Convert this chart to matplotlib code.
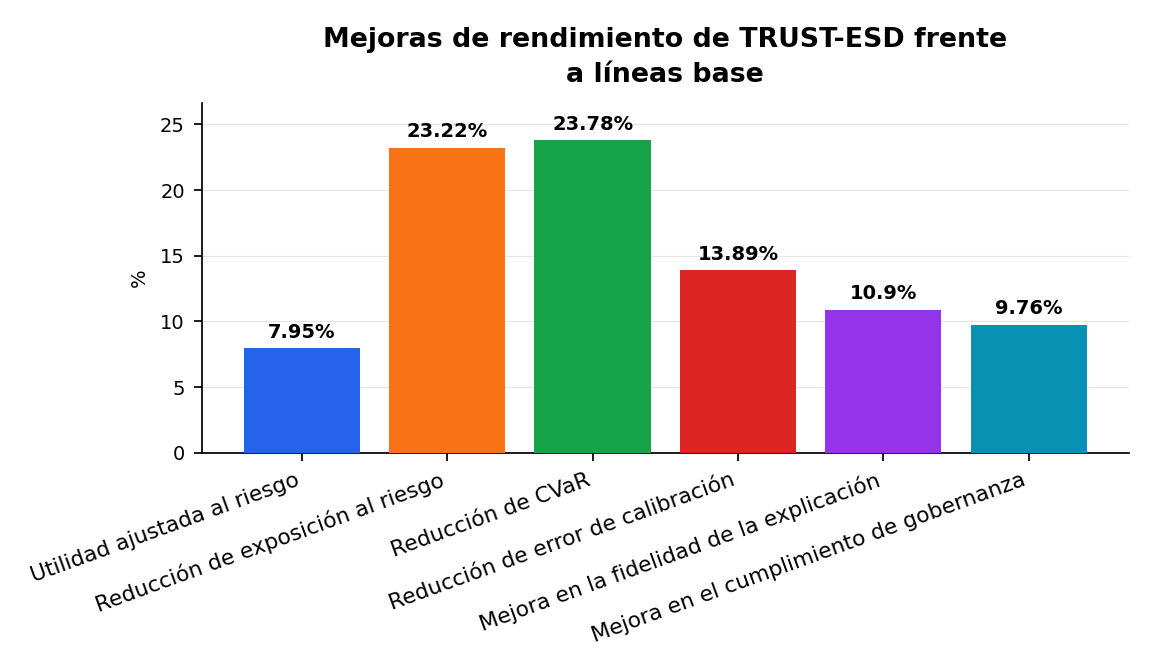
import matplotlib
matplotlib.use('Agg')
import matplotlib.pyplot as plt

categories = ["Utilidad ajustada al riesgo", "Reducción de exposición al riesgo",
              "Reducción de CVaR", "Reducción de error de calibración",
              "Mejora en la fidelidad de la explicación",
              "Mejora en el cumplimiento de gobernanza"]
values = [7.95, 23.22, 23.78, 13.89, 10.9, 9.76]
colors = ["#2563eb", "#f97316", "#16a34a", "#dc2626", "#9333ea", "#0891b2"]

fig, ax = plt.subplots(figsize=(11.52, 6.72), dpi=100)
bars = ax.bar(categories, values, color=colors, width=0.8, zorder=3)
for b, v in zip(bars, values):
    ax.text(b.get_x() + b.get_width() / 2, v + 0.5, f"{v}%", ha="center", va="bottom",
            fontsize=14, fontweight="bold")
ax.set_ylim(0, max(values) * 1.12)
ax.set_ylabel("%", fontsize=14, labelpad=8)
ax.set_title("Mejoras de rendimiento de TRUST-ESD frente\na líneas base",
             fontsize=19.3, fontweight="bold", pad=15, linespacing=1.45)
ax.grid(axis="y", color="#e5e5e5", zorder=0)
ax.spines["top"].set_visible(False)
ax.spines["right"].set_visible(False)
for s in ("left", "bottom"):
    ax.spines[s].set_linewidth(1.25)
ax.tick_params(axis="both", length=6, width=1.25, pad=6)
ax.tick_params(axis="y", labelsize=14)
ax.tick_params(axis="x", labelsize=15.7)
plt.setp(ax.get_xticklabels(), rotation=20, ha="right")
plt.subplots_adjust(left=0.175, right=0.98, top=0.847, bottom=0.326)
plt.savefig("out.png")
